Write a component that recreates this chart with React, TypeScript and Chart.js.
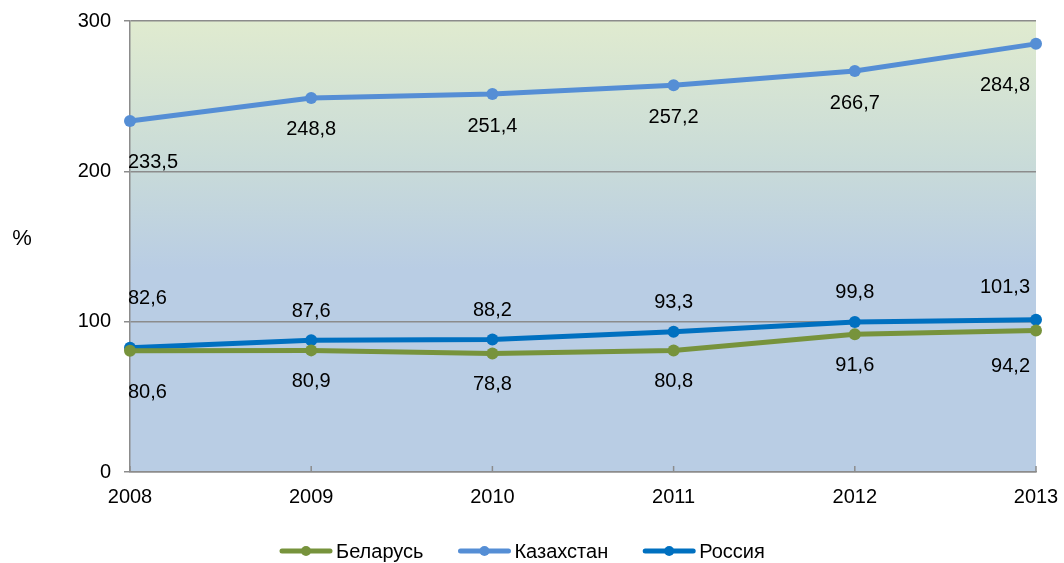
import React, { useEffect, useRef } from "react";
import { Chart, registerables } from "chart.js";

Chart.register(...registerables);

const years = ["2008", "2009", "2010", "2011", "2012", "2013"];
const belarus = [80.6, 80.9, 78.8, 80.8, 91.6, 94.2];
const kazakhstan = [233.5, 248.8, 251.4, 257.2, 266.7, 284.8];
const russia = [82.6, 87.6, 88.2, 93.3, 99.8, 101.3];
const yTicks = [0, 100, 200, 300];

const FONT = "'Liberation Sans', Arial, sans-serif";

// label vertical offsets (px) relative to point: [first, middle, last]
const labelOffsets: Record<string, number[]> = {
  "Беларусь": [42, 31, 36],
  "Казахстан": [42, 32, 42],
  "Россия": [-49, -29, -32],
};

const fmt = (v: number) => v.toFixed(1).replace(".", ",");

const decorPlugin = {
  id: "decor",
  beforeDraw(chart: any) {
    const { ctx, chartArea } = chart;
    const { left, right, top, bottom } = chartArea;
    const g = ctx.createLinearGradient(0, top, 0, bottom);
    g.addColorStop(0, "#e0ebcf");
    g.addColorStop(0.3, "#cadcd8");
    g.addColorStop(0.55, "#b9cde4");
    g.addColorStop(1, "#b9cde4");
    ctx.save();
    ctx.fillStyle = g;
    ctx.fillRect(left, top, right - left, bottom - top);
    ctx.restore();
  },
  afterDatasetsDraw(chart: any) {
    const { ctx, chartArea } = chart;
    const xScale = chart.scales.x;
    ctx.save();
    // x tick marks pointing up into the plot
    ctx.strokeStyle = "#8c8c8c";
    ctx.lineWidth = 1.5;
    years.forEach((_, i) => {
      const x = xScale.getPixelForValue(i);
      ctx.beginPath();
      ctx.moveTo(x, chartArea.bottom);
      ctx.lineTo(x, chartArea.bottom - 6);
      ctx.stroke();
    });
    // data labels
    ctx.fillStyle = "#000";
    ctx.font = `20px ${FONT}`;
    ctx.textAlign = "center";
    ctx.textBaseline = "middle";
    chart.data.datasets.forEach((ds: any, di: number) => {
      const meta = chart.getDatasetMeta(di);
      const offs = labelOffsets[ds.label];
      meta.data.forEach((pt: any, i: number) => {
        const n = meta.data.length;
        const off = i === 0 ? offs[0] : i === n - 1 ? offs[2] : offs[1];
        const text = fmt(ds.data[i]);
        const w = ctx.measureText(text).width;
        let x = pt.x;
        if (x - w / 2 < chartArea.left) x = chartArea.left + w / 2 - 2;
        if (x + w / 2 > chartArea.right) x = chartArea.right - w / 2 - 6;
        ctx.fillText(text, x, pt.y + off);
      });
    });
    // y axis title
    ctx.font = `22px ${FONT}`;
    ctx.fillText("%", 22, 239);
    // legend
    const items = chart.data.datasets.map((d: any) => ({ label: d.label, color: d.borderColor }));
    ctx.font = `20px ${FONT}`;
    ctx.textAlign = "left";
    const lineW = 52;
    const gap = 4;
    const spacing = 35;
    let x = 280;
    const y = 551;
    items.forEach((it: any) => {
      ctx.strokeStyle = it.color;
      ctx.lineWidth = 5;
      ctx.lineCap = "round";
      ctx.beginPath();
      ctx.moveTo(x + 2, y);
      ctx.lineTo(x + lineW - 2, y);
      ctx.stroke();
      ctx.fillStyle = it.color;
      ctx.beginPath();
      ctx.arc(x + lineW / 2, y, 5, 0, Math.PI * 2);
      ctx.fill();
      ctx.fillStyle = "#000";
      ctx.fillText(it.label, x + lineW + gap, y + 1);
      x += lineW + gap + ctx.measureText(it.label).width + spacing;
    });
    ctx.restore();
  },
};

export default function App() {
  const ref = useRef<HTMLCanvasElement>(null);
  useEffect(() => {
    const mk = (label: string, data: number[], color: string) => ({
      label,
      data,
      borderColor: color,
      backgroundColor: color,
      borderWidth: 5,
      pointRadius: 6,
      pointHoverRadius: 6,
      pointBackgroundColor: color,
      pointBorderWidth: 0,
      tension: 0,
    });
    const chart = new Chart(ref.current!, {
      type: "line",
      data: {
        labels: years,
        datasets: [
          mk("Беларусь", belarus, "#77933c"),
          mk("Казахстан", kazakhstan, "#558ed5"),
          mk("Россия", russia, "#0070c0"),
        ],
      },
      options: {
        animation: false,
        responsive: false,
        maintainAspectRatio: false,
        layout: { padding: { top: 21, right: 28, left: 0, bottom: 0 } },
        plugins: { legend: { display: false }, tooltip: { enabled: false } },
        scales: {
          x: {
            type: "category",
            offset: false,
            grid: { display: false },
            border: { display: true, color: "#8c8c8c", width: 1.5 },
            ticks: { color: "#000", font: { family: FONT, size: 20 }, padding: 5, maxRotation: 0, autoSkip: false },
            afterFit: (s: any) => { s.height = 91; s.paddingLeft = 0; s.paddingRight = 0; },
          },
          y: {
            min: 0,
            max: 300,
            afterBuildTicks: (s: any) => { s.ticks = yTicks.map((v) => ({ value: v })); },
            grid: { color: "#8c8c8c", lineWidth: 1.5, tickLength: 6, drawTicks: true },
            border: { display: true, color: "#8c8c8c", width: 1.5 },
            ticks: { color: "#000", font: { family: FONT, size: 20 }, padding: 13 },
            afterFit: (s: any) => { s.width = 130; s.paddingTop = 0; s.paddingBottom = 0; },
          },
        },
      },
      plugins: [decorPlugin],
    });
    return () => chart.destroy();
  }, []);
  return (
    <div style={{ position: "fixed", left: 0, top: 0, width: 1064, height: 563, background: "#fff" }}>
      <canvas ref={ref} width={1064} height={563} style={{ width: 1064, height: 563 }} />
    </div>
  );
}
